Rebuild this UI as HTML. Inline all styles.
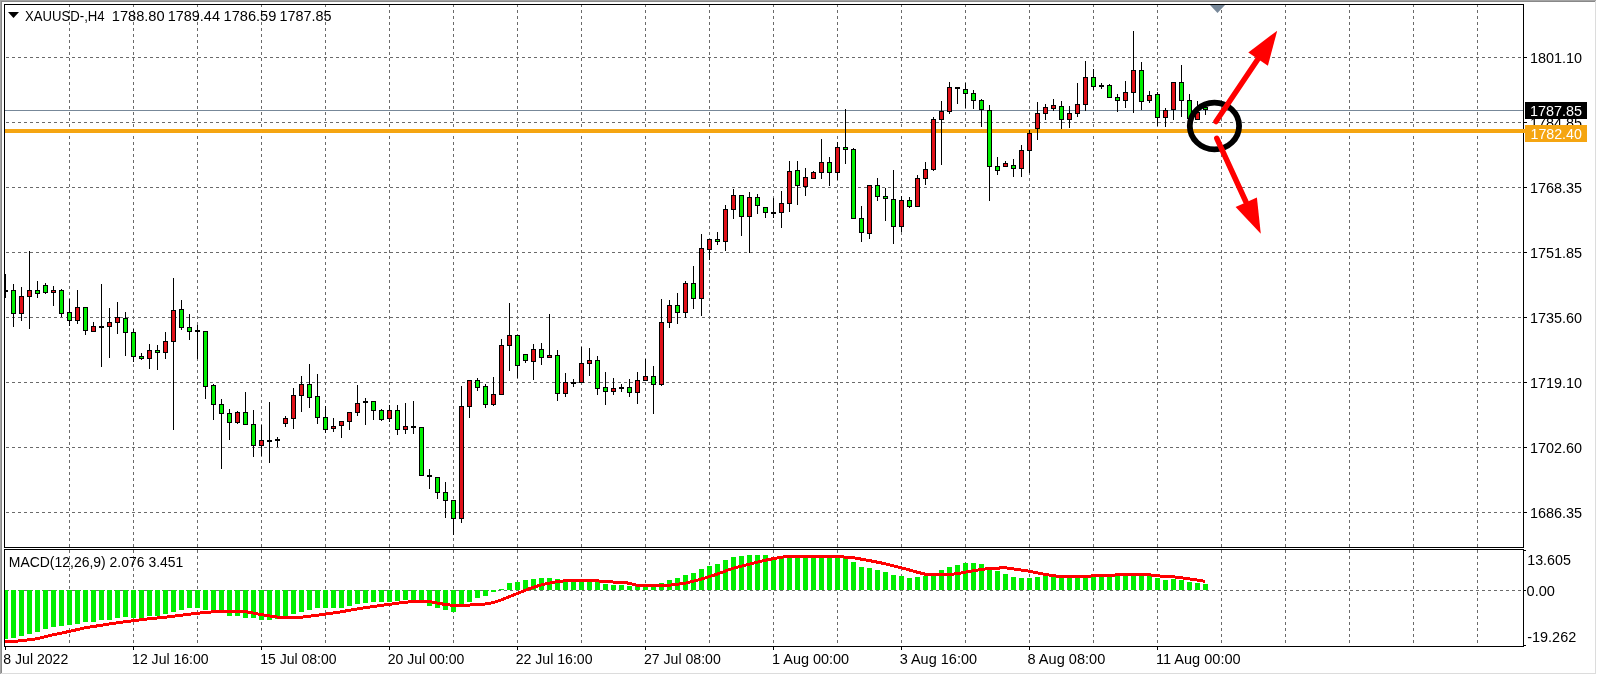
<!DOCTYPE html><html><head><meta charset="utf-8"><title>XAUUSD H4</title><style>
html,body{margin:0;padding:0;background:#fff;width:1597px;height:675px;overflow:hidden}
svg{display:block;will-change:transform}
text{font-family:"Liberation Sans",sans-serif;font-size:14px;fill:#000}
</style></head><body>
<svg width="1597" height="675" viewBox="0 0 1597 675" shape-rendering="crispEdges">
<defs><clipPath id="cm"><rect x="5" y="5" width="1518" height="542"/></clipPath><clipPath id="cd"><rect x="5" y="550" width="1518" height="96"/></clipPath></defs>
<rect x="0" y="0" width="1596" height="1" fill="#a4a4a4"/>
<rect x="0" y="0" width="1" height="674" fill="#a4a4a4"/>
<rect x="1" y="1" width="1594" height="1" fill="#888"/>
<rect x="1" y="1" width="1" height="672" fill="#888"/>
<rect x="1595" y="1" width="1" height="673" fill="#dcdcdc"/>
<rect x="1" y="673" width="1595" height="1" fill="#dcdcdc"/>
<g clip-path="url(#cm)"><line x1="69.5" y1="4" x2="69.5" y2="547" stroke="#6a6a6a" stroke-dasharray="3 3"/><line x1="133.5" y1="4" x2="133.5" y2="547" stroke="#6a6a6a" stroke-dasharray="3 3"/><line x1="197.5" y1="4" x2="197.5" y2="547" stroke="#6a6a6a" stroke-dasharray="3 3"/><line x1="261.5" y1="4" x2="261.5" y2="547" stroke="#6a6a6a" stroke-dasharray="3 3"/><line x1="325.5" y1="4" x2="325.5" y2="547" stroke="#6a6a6a" stroke-dasharray="3 3"/><line x1="389.5" y1="4" x2="389.5" y2="547" stroke="#6a6a6a" stroke-dasharray="3 3"/><line x1="453.5" y1="4" x2="453.5" y2="547" stroke="#6a6a6a" stroke-dasharray="3 3"/><line x1="517.5" y1="4" x2="517.5" y2="547" stroke="#6a6a6a" stroke-dasharray="3 3"/><line x1="581.5" y1="4" x2="581.5" y2="547" stroke="#6a6a6a" stroke-dasharray="3 3"/><line x1="645.5" y1="4" x2="645.5" y2="547" stroke="#6a6a6a" stroke-dasharray="3 3"/><line x1="709.5" y1="4" x2="709.5" y2="547" stroke="#6a6a6a" stroke-dasharray="3 3"/><line x1="773.5" y1="4" x2="773.5" y2="547" stroke="#6a6a6a" stroke-dasharray="3 3"/><line x1="837.5" y1="4" x2="837.5" y2="547" stroke="#6a6a6a" stroke-dasharray="3 3"/><line x1="901.5" y1="4" x2="901.5" y2="547" stroke="#6a6a6a" stroke-dasharray="3 3"/><line x1="965.5" y1="4" x2="965.5" y2="547" stroke="#6a6a6a" stroke-dasharray="3 3"/><line x1="1029.5" y1="4" x2="1029.5" y2="547" stroke="#6a6a6a" stroke-dasharray="3 3"/><line x1="1093.5" y1="4" x2="1093.5" y2="547" stroke="#6a6a6a" stroke-dasharray="3 3"/><line x1="1157.5" y1="4" x2="1157.5" y2="547" stroke="#6a6a6a" stroke-dasharray="3 3"/><line x1="1221.5" y1="4" x2="1221.5" y2="547" stroke="#6a6a6a" stroke-dasharray="3 3"/><line x1="1285.5" y1="4" x2="1285.5" y2="547" stroke="#6a6a6a" stroke-dasharray="3 3"/><line x1="1349.5" y1="4" x2="1349.5" y2="547" stroke="#6a6a6a" stroke-dasharray="3 3"/><line x1="1413.5" y1="4" x2="1413.5" y2="547" stroke="#6a6a6a" stroke-dasharray="3 3"/><line x1="1477.5" y1="4" x2="1477.5" y2="547" stroke="#6a6a6a" stroke-dasharray="3 3"/><line x1="0" y1="57.5" x2="1523" y2="57.5" stroke="#6a6a6a" stroke-dasharray="3 3"/><line x1="0" y1="122.5" x2="1523" y2="122.5" stroke="#6a6a6a" stroke-dasharray="3 3"/><line x1="0" y1="187.5" x2="1523" y2="187.5" stroke="#6a6a6a" stroke-dasharray="3 3"/><line x1="0" y1="252.5" x2="1523" y2="252.5" stroke="#6a6a6a" stroke-dasharray="3 3"/><line x1="0" y1="317.5" x2="1523" y2="317.5" stroke="#6a6a6a" stroke-dasharray="3 3"/><line x1="0" y1="382.5" x2="1523" y2="382.5" stroke="#6a6a6a" stroke-dasharray="3 3"/><line x1="0" y1="447.5" x2="1523" y2="447.5" stroke="#6a6a6a" stroke-dasharray="3 3"/><line x1="0" y1="512.5" x2="1523" y2="512.5" stroke="#6a6a6a" stroke-dasharray="3 3"/><rect x="5" y="110" width="1518" height="1" fill="#778899"/><rect x="5" y="129" width="1520" height="4" fill="#f5a511"/><rect x="5" y="274" width="1" height="24" fill="#000"/><rect x="3" y="290" width="5" height="2" fill="#000"/><rect x="13" y="284" width="1" height="43" fill="#000"/><rect x="11" y="290" width="5" height="24" fill="#000"/><rect x="12" y="291" width="3" height="22" fill="#00ee00"/><rect x="21" y="287" width="1" height="34" fill="#000"/><rect x="19" y="296" width="5" height="18" fill="#000"/><rect x="20" y="297" width="3" height="16" fill="#e01018"/><rect x="29" y="251" width="1" height="78" fill="#000"/><rect x="27" y="290" width="5" height="7" fill="#000"/><rect x="28" y="291" width="3" height="5" fill="#e01018"/><rect x="37" y="281" width="1" height="17" fill="#000"/><rect x="35" y="290" width="5" height="4" fill="#000"/><rect x="36" y="291" width="3" height="2" fill="#00ee00"/><rect x="45" y="283" width="1" height="11" fill="#000"/><rect x="43" y="285" width="5" height="8" fill="#000"/><rect x="44" y="286" width="3" height="6" fill="#00ee00"/><rect x="53" y="286" width="1" height="20" fill="#000"/><rect x="51" y="290" width="5" height="3" fill="#000"/><rect x="52" y="291" width="3" height="1" fill="#e01018"/><rect x="61" y="289" width="1" height="28" fill="#000"/><rect x="59" y="290" width="5" height="24" fill="#000"/><rect x="60" y="291" width="3" height="22" fill="#00ee00"/><rect x="69" y="299" width="1" height="27" fill="#000"/><rect x="67" y="312" width="5" height="9" fill="#000"/><rect x="68" y="313" width="3" height="7" fill="#00ee00"/><rect x="77" y="290" width="1" height="34" fill="#000"/><rect x="75" y="307" width="5" height="14" fill="#000"/><rect x="76" y="308" width="3" height="12" fill="#e01018"/><rect x="85" y="307" width="1" height="28" fill="#000"/><rect x="83" y="307" width="5" height="24" fill="#000"/><rect x="84" y="308" width="3" height="22" fill="#00ee00"/><rect x="93" y="322" width="1" height="10" fill="#000"/><rect x="91" y="326" width="5" height="6" fill="#000"/><rect x="92" y="327" width="3" height="4" fill="#e01018"/><rect x="101" y="284" width="1" height="83" fill="#000"/><rect x="99" y="326" width="5" height="2" fill="#000"/><rect x="109" y="308" width="1" height="50" fill="#000"/><rect x="107" y="322" width="5" height="5" fill="#000"/><rect x="108" y="323" width="3" height="3" fill="#e01018"/><rect x="117" y="302" width="1" height="32" fill="#000"/><rect x="115" y="317" width="5" height="6" fill="#000"/><rect x="116" y="318" width="3" height="4" fill="#e01018"/><rect x="125" y="312" width="1" height="44" fill="#000"/><rect x="123" y="318" width="5" height="15" fill="#000"/><rect x="124" y="319" width="3" height="13" fill="#00ee00"/><rect x="133" y="329" width="1" height="33" fill="#000"/><rect x="131" y="332" width="5" height="25" fill="#000"/><rect x="132" y="333" width="3" height="23" fill="#00ee00"/><rect x="141" y="353" width="1" height="7" fill="#000"/><rect x="139" y="356" width="5" height="3" fill="#000"/><rect x="140" y="357" width="3" height="1" fill="#00ee00"/><rect x="149" y="344" width="1" height="25" fill="#000"/><rect x="147" y="350" width="5" height="9" fill="#000"/><rect x="148" y="351" width="3" height="7" fill="#e01018"/><rect x="157" y="345" width="1" height="25" fill="#000"/><rect x="155" y="350" width="5" height="3" fill="#000"/><rect x="156" y="351" width="3" height="1" fill="#00ee00"/><rect x="165" y="332" width="1" height="27" fill="#000"/><rect x="163" y="341" width="5" height="12" fill="#000"/><rect x="164" y="342" width="3" height="10" fill="#e01018"/><rect x="173" y="278" width="1" height="152" fill="#000"/><rect x="171" y="310" width="5" height="32" fill="#000"/><rect x="172" y="311" width="3" height="30" fill="#e01018"/><rect x="181" y="300" width="1" height="30" fill="#000"/><rect x="179" y="309" width="5" height="19" fill="#000"/><rect x="180" y="310" width="3" height="17" fill="#00ee00"/><rect x="189" y="314" width="1" height="26" fill="#000"/><rect x="187" y="327" width="5" height="5" fill="#000"/><rect x="188" y="328" width="3" height="3" fill="#00ee00"/><rect x="197" y="325" width="1" height="34" fill="#000"/><rect x="195" y="330" width="5" height="2" fill="#000"/><rect x="205" y="331" width="1" height="68" fill="#000"/><rect x="203" y="331" width="5" height="56" fill="#000"/><rect x="204" y="332" width="3" height="54" fill="#00ee00"/><rect x="213" y="384" width="1" height="36" fill="#000"/><rect x="211" y="385" width="5" height="20" fill="#000"/><rect x="212" y="386" width="3" height="18" fill="#00ee00"/><rect x="221" y="399" width="1" height="70" fill="#000"/><rect x="219" y="404" width="5" height="10" fill="#000"/><rect x="220" y="405" width="3" height="8" fill="#00ee00"/><rect x="229" y="409" width="1" height="31" fill="#000"/><rect x="227" y="413" width="5" height="10" fill="#000"/><rect x="228" y="414" width="3" height="8" fill="#00ee00"/><rect x="237" y="411" width="1" height="13" fill="#000"/><rect x="235" y="412" width="5" height="11" fill="#000"/><rect x="236" y="413" width="3" height="9" fill="#e01018"/><rect x="245" y="392" width="1" height="33" fill="#000"/><rect x="243" y="412" width="5" height="13" fill="#000"/><rect x="244" y="413" width="3" height="11" fill="#00ee00"/><rect x="253" y="410" width="1" height="47" fill="#000"/><rect x="251" y="424" width="5" height="22" fill="#000"/><rect x="252" y="425" width="3" height="20" fill="#00ee00"/><rect x="261" y="425" width="1" height="31" fill="#000"/><rect x="259" y="440" width="5" height="6" fill="#000"/><rect x="260" y="441" width="3" height="4" fill="#e01018"/><rect x="269" y="402" width="1" height="61" fill="#000"/><rect x="267" y="440" width="5" height="2" fill="#000"/><rect x="277" y="437" width="1" height="10" fill="#000"/><rect x="275" y="439" width="5" height="2" fill="#000"/><rect x="285" y="416" width="1" height="11" fill="#000"/><rect x="283" y="418" width="5" height="6" fill="#000"/><rect x="284" y="419" width="3" height="4" fill="#e01018"/><rect x="293" y="388" width="1" height="41" fill="#000"/><rect x="291" y="395" width="5" height="24" fill="#000"/><rect x="292" y="396" width="3" height="22" fill="#e01018"/><rect x="301" y="376" width="1" height="36" fill="#000"/><rect x="299" y="384" width="5" height="12" fill="#000"/><rect x="300" y="385" width="3" height="10" fill="#e01018"/><rect x="309" y="364" width="1" height="44" fill="#000"/><rect x="307" y="384" width="5" height="14" fill="#000"/><rect x="308" y="385" width="3" height="12" fill="#00ee00"/><rect x="317" y="374" width="1" height="50" fill="#000"/><rect x="315" y="396" width="5" height="22" fill="#000"/><rect x="316" y="397" width="3" height="20" fill="#00ee00"/><rect x="325" y="406" width="1" height="27" fill="#000"/><rect x="323" y="417" width="5" height="13" fill="#000"/><rect x="324" y="418" width="3" height="11" fill="#00ee00"/><rect x="333" y="418" width="1" height="14" fill="#000"/><rect x="331" y="426" width="5" height="3" fill="#000"/><rect x="332" y="427" width="3" height="1" fill="#e01018"/><rect x="341" y="421" width="1" height="17" fill="#000"/><rect x="339" y="421" width="5" height="5" fill="#000"/><rect x="340" y="422" width="3" height="3" fill="#e01018"/><rect x="349" y="412" width="1" height="18" fill="#000"/><rect x="347" y="412" width="5" height="10" fill="#000"/><rect x="348" y="413" width="3" height="8" fill="#e01018"/><rect x="357" y="385" width="1" height="31" fill="#000"/><rect x="355" y="403" width="5" height="10" fill="#000"/><rect x="356" y="404" width="3" height="8" fill="#e01018"/><rect x="365" y="398" width="1" height="27" fill="#000"/><rect x="363" y="401" width="5" height="2" fill="#000"/><rect x="373" y="401" width="1" height="19" fill="#000"/><rect x="371" y="401" width="5" height="10" fill="#000"/><rect x="372" y="402" width="3" height="8" fill="#00ee00"/><rect x="381" y="409" width="1" height="12" fill="#000"/><rect x="379" y="410" width="5" height="10" fill="#000"/><rect x="380" y="411" width="3" height="8" fill="#00ee00"/><rect x="389" y="405" width="1" height="17" fill="#000"/><rect x="387" y="410" width="5" height="9" fill="#000"/><rect x="388" y="411" width="3" height="7" fill="#e01018"/><rect x="397" y="405" width="1" height="30" fill="#000"/><rect x="395" y="410" width="5" height="20" fill="#000"/><rect x="396" y="411" width="3" height="18" fill="#00ee00"/><rect x="405" y="403" width="1" height="31" fill="#000"/><rect x="403" y="426" width="5" height="4" fill="#000"/><rect x="404" y="427" width="3" height="2" fill="#e01018"/><rect x="413" y="401" width="1" height="33" fill="#000"/><rect x="411" y="426" width="5" height="2" fill="#000"/><rect x="421" y="427" width="1" height="49" fill="#000"/><rect x="419" y="427" width="5" height="49" fill="#000"/><rect x="420" y="428" width="3" height="47" fill="#00ee00"/><rect x="429" y="469" width="1" height="20" fill="#000"/><rect x="427" y="475" width="5" height="2" fill="#000"/><rect x="437" y="477" width="1" height="22" fill="#000"/><rect x="435" y="477" width="5" height="16" fill="#000"/><rect x="436" y="478" width="3" height="14" fill="#00ee00"/><rect x="445" y="482" width="1" height="36" fill="#000"/><rect x="443" y="492" width="5" height="9" fill="#000"/><rect x="444" y="493" width="3" height="7" fill="#00ee00"/><rect x="453" y="500" width="1" height="35" fill="#000"/><rect x="451" y="500" width="5" height="19" fill="#000"/><rect x="452" y="501" width="3" height="17" fill="#00ee00"/><rect x="461" y="386" width="1" height="137" fill="#000"/><rect x="459" y="406" width="5" height="113" fill="#000"/><rect x="460" y="407" width="3" height="111" fill="#e01018"/><rect x="469" y="380" width="1" height="38" fill="#000"/><rect x="467" y="380" width="5" height="27" fill="#000"/><rect x="468" y="381" width="3" height="25" fill="#e01018"/><rect x="477" y="378" width="1" height="13" fill="#000"/><rect x="475" y="380" width="5" height="8" fill="#000"/><rect x="476" y="381" width="3" height="6" fill="#00ee00"/><rect x="485" y="384" width="1" height="24" fill="#000"/><rect x="483" y="386" width="5" height="19" fill="#000"/><rect x="484" y="387" width="3" height="17" fill="#00ee00"/><rect x="493" y="377" width="1" height="29" fill="#000"/><rect x="491" y="394" width="5" height="11" fill="#000"/><rect x="492" y="395" width="3" height="9" fill="#e01018"/><rect x="501" y="339" width="1" height="56" fill="#000"/><rect x="499" y="345" width="5" height="50" fill="#000"/><rect x="500" y="346" width="3" height="48" fill="#e01018"/><rect x="509" y="303" width="1" height="68" fill="#000"/><rect x="507" y="335" width="5" height="11" fill="#000"/><rect x="508" y="336" width="3" height="9" fill="#e01018"/><rect x="517" y="335" width="1" height="43" fill="#000"/><rect x="515" y="335" width="5" height="31" fill="#000"/><rect x="516" y="336" width="3" height="29" fill="#00ee00"/><rect x="525" y="354" width="1" height="9" fill="#000"/><rect x="523" y="354" width="5" height="7" fill="#000"/><rect x="524" y="355" width="3" height="5" fill="#00ee00"/><rect x="533" y="344" width="1" height="36" fill="#000"/><rect x="531" y="349" width="5" height="13" fill="#000"/><rect x="532" y="350" width="3" height="11" fill="#e01018"/><rect x="541" y="343" width="1" height="22" fill="#000"/><rect x="539" y="349" width="5" height="9" fill="#000"/><rect x="540" y="350" width="3" height="7" fill="#00ee00"/><rect x="549" y="314" width="1" height="44" fill="#000"/><rect x="547" y="355" width="5" height="3" fill="#000"/><rect x="548" y="356" width="3" height="1" fill="#e01018"/><rect x="557" y="350" width="1" height="51" fill="#000"/><rect x="555" y="355" width="5" height="39" fill="#000"/><rect x="556" y="356" width="3" height="37" fill="#00ee00"/><rect x="565" y="373" width="1" height="24" fill="#000"/><rect x="563" y="382" width="5" height="12" fill="#000"/><rect x="564" y="383" width="3" height="10" fill="#e01018"/><rect x="573" y="379" width="1" height="8" fill="#000"/><rect x="571" y="382" width="5" height="2" fill="#000"/><rect x="581" y="347" width="1" height="36" fill="#000"/><rect x="579" y="363" width="5" height="20" fill="#000"/><rect x="580" y="364" width="3" height="18" fill="#e01018"/><rect x="589" y="348" width="1" height="28" fill="#000"/><rect x="587" y="360" width="5" height="4" fill="#000"/><rect x="588" y="361" width="3" height="2" fill="#e01018"/><rect x="597" y="356" width="1" height="39" fill="#000"/><rect x="595" y="360" width="5" height="29" fill="#000"/><rect x="596" y="361" width="3" height="27" fill="#00ee00"/><rect x="605" y="372" width="1" height="33" fill="#000"/><rect x="603" y="387" width="5" height="5" fill="#000"/><rect x="604" y="388" width="3" height="3" fill="#00ee00"/><rect x="613" y="378" width="1" height="17" fill="#000"/><rect x="611" y="388" width="5" height="4" fill="#000"/><rect x="612" y="389" width="3" height="2" fill="#e01018"/><rect x="621" y="384" width="1" height="8" fill="#000"/><rect x="619" y="387" width="5" height="2" fill="#000"/><rect x="629" y="379" width="1" height="18" fill="#000"/><rect x="627" y="387" width="5" height="6" fill="#000"/><rect x="628" y="388" width="3" height="4" fill="#00ee00"/><rect x="637" y="372" width="1" height="32" fill="#000"/><rect x="635" y="380" width="5" height="13" fill="#000"/><rect x="636" y="381" width="3" height="11" fill="#e01018"/><rect x="645" y="359" width="1" height="22" fill="#000"/><rect x="643" y="376" width="5" height="5" fill="#000"/><rect x="644" y="377" width="3" height="3" fill="#e01018"/><rect x="653" y="366" width="1" height="48" fill="#000"/><rect x="651" y="376" width="5" height="9" fill="#000"/><rect x="652" y="377" width="3" height="7" fill="#00ee00"/><rect x="661" y="299" width="1" height="87" fill="#000"/><rect x="659" y="322" width="5" height="63" fill="#000"/><rect x="660" y="323" width="3" height="61" fill="#e01018"/><rect x="669" y="300" width="1" height="28" fill="#000"/><rect x="667" y="305" width="5" height="18" fill="#000"/><rect x="668" y="306" width="3" height="16" fill="#e01018"/><rect x="677" y="293" width="1" height="31" fill="#000"/><rect x="675" y="305" width="5" height="8" fill="#000"/><rect x="676" y="306" width="3" height="6" fill="#00ee00"/><rect x="685" y="281" width="1" height="37" fill="#000"/><rect x="683" y="283" width="5" height="30" fill="#000"/><rect x="684" y="284" width="3" height="28" fill="#e01018"/><rect x="693" y="266" width="1" height="43" fill="#000"/><rect x="691" y="283" width="5" height="16" fill="#000"/><rect x="692" y="284" width="3" height="14" fill="#00ee00"/><rect x="701" y="234" width="1" height="82" fill="#000"/><rect x="699" y="248" width="5" height="51" fill="#000"/><rect x="700" y="249" width="3" height="49" fill="#e01018"/><rect x="709" y="239" width="1" height="21" fill="#000"/><rect x="707" y="239" width="5" height="11" fill="#000"/><rect x="708" y="240" width="3" height="9" fill="#e01018"/><rect x="717" y="232" width="1" height="13" fill="#000"/><rect x="715" y="239" width="5" height="3" fill="#000"/><rect x="716" y="240" width="3" height="1" fill="#00ee00"/><rect x="725" y="205" width="1" height="46" fill="#000"/><rect x="723" y="209" width="5" height="33" fill="#000"/><rect x="724" y="210" width="3" height="31" fill="#e01018"/><rect x="733" y="189" width="1" height="30" fill="#000"/><rect x="731" y="195" width="5" height="15" fill="#000"/><rect x="732" y="196" width="3" height="13" fill="#e01018"/><rect x="741" y="195" width="1" height="41" fill="#000"/><rect x="739" y="195" width="5" height="22" fill="#000"/><rect x="740" y="196" width="3" height="20" fill="#00ee00"/><rect x="749" y="192" width="1" height="61" fill="#000"/><rect x="747" y="197" width="5" height="20" fill="#000"/><rect x="748" y="198" width="3" height="18" fill="#e01018"/><rect x="757" y="194" width="1" height="20" fill="#000"/><rect x="755" y="197" width="5" height="9" fill="#000"/><rect x="756" y="198" width="3" height="7" fill="#00ee00"/><rect x="765" y="207" width="1" height="11" fill="#000"/><rect x="763" y="207" width="5" height="6" fill="#000"/><rect x="764" y="208" width="3" height="4" fill="#00ee00"/><rect x="773" y="198" width="1" height="20" fill="#000"/><rect x="771" y="212" width="5" height="2" fill="#000"/><rect x="781" y="191" width="1" height="37" fill="#000"/><rect x="779" y="203" width="5" height="10" fill="#000"/><rect x="780" y="204" width="3" height="8" fill="#e01018"/><rect x="789" y="161" width="1" height="51" fill="#000"/><rect x="787" y="171" width="5" height="33" fill="#000"/><rect x="788" y="172" width="3" height="31" fill="#e01018"/><rect x="797" y="161" width="1" height="44" fill="#000"/><rect x="795" y="170" width="5" height="16" fill="#000"/><rect x="796" y="171" width="3" height="14" fill="#00ee00"/><rect x="805" y="168" width="1" height="28" fill="#000"/><rect x="803" y="177" width="5" height="10" fill="#000"/><rect x="804" y="178" width="3" height="8" fill="#e01018"/><rect x="813" y="171" width="1" height="8" fill="#000"/><rect x="811" y="172" width="5" height="7" fill="#000"/><rect x="812" y="173" width="3" height="5" fill="#e01018"/><rect x="821" y="139" width="1" height="40" fill="#000"/><rect x="819" y="162" width="5" height="11" fill="#000"/><rect x="820" y="163" width="3" height="9" fill="#e01018"/><rect x="829" y="157" width="1" height="29" fill="#000"/><rect x="827" y="162" width="5" height="11" fill="#000"/><rect x="828" y="163" width="3" height="9" fill="#00ee00"/><rect x="837" y="142" width="1" height="38" fill="#000"/><rect x="835" y="147" width="5" height="26" fill="#000"/><rect x="836" y="148" width="3" height="24" fill="#e01018"/><rect x="845" y="109" width="1" height="55" fill="#000"/><rect x="843" y="147" width="5" height="3" fill="#000"/><rect x="844" y="148" width="3" height="1" fill="#00ee00"/><rect x="853" y="148" width="1" height="71" fill="#000"/><rect x="851" y="149" width="5" height="70" fill="#000"/><rect x="852" y="150" width="3" height="68" fill="#00ee00"/><rect x="861" y="206" width="1" height="36" fill="#000"/><rect x="859" y="218" width="5" height="15" fill="#000"/><rect x="860" y="219" width="3" height="13" fill="#00ee00"/><rect x="869" y="185" width="1" height="54" fill="#000"/><rect x="867" y="185" width="5" height="49" fill="#000"/><rect x="868" y="186" width="3" height="47" fill="#e01018"/><rect x="877" y="178" width="1" height="23" fill="#000"/><rect x="875" y="185" width="5" height="12" fill="#000"/><rect x="876" y="186" width="3" height="10" fill="#00ee00"/><rect x="885" y="188" width="1" height="33" fill="#000"/><rect x="883" y="196" width="5" height="3" fill="#000"/><rect x="884" y="197" width="3" height="1" fill="#00ee00"/><rect x="893" y="170" width="1" height="74" fill="#000"/><rect x="891" y="199" width="5" height="28" fill="#000"/><rect x="892" y="200" width="3" height="26" fill="#00ee00"/><rect x="901" y="196" width="1" height="36" fill="#000"/><rect x="899" y="200" width="5" height="27" fill="#000"/><rect x="900" y="201" width="3" height="25" fill="#e01018"/><rect x="909" y="197" width="1" height="11" fill="#000"/><rect x="907" y="200" width="5" height="7" fill="#000"/><rect x="908" y="201" width="3" height="5" fill="#00ee00"/><rect x="917" y="175" width="1" height="32" fill="#000"/><rect x="915" y="178" width="5" height="29" fill="#000"/><rect x="916" y="179" width="3" height="27" fill="#e01018"/><rect x="925" y="162" width="1" height="23" fill="#000"/><rect x="923" y="169" width="5" height="10" fill="#000"/><rect x="924" y="170" width="3" height="8" fill="#e01018"/><rect x="933" y="117" width="1" height="54" fill="#000"/><rect x="931" y="119" width="5" height="51" fill="#000"/><rect x="932" y="120" width="3" height="49" fill="#e01018"/><rect x="941" y="101" width="1" height="64" fill="#000"/><rect x="939" y="111" width="5" height="9" fill="#000"/><rect x="940" y="112" width="3" height="7" fill="#e01018"/><rect x="949" y="82" width="1" height="32" fill="#000"/><rect x="947" y="87" width="5" height="25" fill="#000"/><rect x="948" y="88" width="3" height="23" fill="#e01018"/><rect x="957" y="88" width="1" height="16" fill="#000"/><rect x="955" y="87" width="5" height="2" fill="#000"/><rect x="965" y="83" width="1" height="25" fill="#000"/><rect x="963" y="89" width="5" height="5" fill="#000"/><rect x="964" y="90" width="3" height="3" fill="#00ee00"/><rect x="973" y="90" width="1" height="19" fill="#000"/><rect x="971" y="93" width="5" height="8" fill="#000"/><rect x="972" y="94" width="3" height="6" fill="#00ee00"/><rect x="981" y="99" width="1" height="28" fill="#000"/><rect x="979" y="100" width="5" height="10" fill="#000"/><rect x="980" y="101" width="3" height="8" fill="#00ee00"/><rect x="989" y="105" width="1" height="96" fill="#000"/><rect x="987" y="110" width="5" height="57" fill="#000"/><rect x="988" y="111" width="3" height="55" fill="#00ee00"/><rect x="997" y="157" width="1" height="18" fill="#000"/><rect x="995" y="166" width="5" height="5" fill="#000"/><rect x="996" y="167" width="3" height="3" fill="#00ee00"/><rect x="1005" y="161" width="1" height="6" fill="#000"/><rect x="1003" y="163" width="5" height="4" fill="#000"/><rect x="1004" y="164" width="3" height="2" fill="#e01018"/><rect x="1013" y="159" width="1" height="18" fill="#000"/><rect x="1011" y="165" width="5" height="4" fill="#000"/><rect x="1012" y="166" width="3" height="2" fill="#00ee00"/><rect x="1021" y="145" width="1" height="32" fill="#000"/><rect x="1019" y="150" width="5" height="19" fill="#000"/><rect x="1020" y="151" width="3" height="17" fill="#e01018"/><rect x="1029" y="130" width="1" height="43" fill="#000"/><rect x="1027" y="133" width="5" height="18" fill="#000"/><rect x="1028" y="134" width="3" height="16" fill="#e01018"/><rect x="1037" y="102" width="1" height="38" fill="#000"/><rect x="1035" y="113" width="5" height="16" fill="#000"/><rect x="1036" y="114" width="3" height="14" fill="#e01018"/><rect x="1045" y="104" width="1" height="16" fill="#000"/><rect x="1043" y="107" width="5" height="7" fill="#000"/><rect x="1044" y="108" width="3" height="5" fill="#e01018"/><rect x="1053" y="99" width="1" height="12" fill="#000"/><rect x="1051" y="105" width="5" height="4" fill="#000"/><rect x="1052" y="106" width="3" height="2" fill="#e01018"/><rect x="1061" y="101" width="1" height="28" fill="#000"/><rect x="1059" y="106" width="5" height="14" fill="#000"/><rect x="1060" y="107" width="3" height="12" fill="#00ee00"/><rect x="1069" y="106" width="1" height="22" fill="#000"/><rect x="1067" y="113" width="5" height="7" fill="#000"/><rect x="1068" y="114" width="3" height="5" fill="#e01018"/><rect x="1077" y="83" width="1" height="34" fill="#000"/><rect x="1075" y="104" width="5" height="10" fill="#000"/><rect x="1076" y="105" width="3" height="8" fill="#e01018"/><rect x="1085" y="61" width="1" height="50" fill="#000"/><rect x="1083" y="77" width="5" height="28" fill="#000"/><rect x="1084" y="78" width="3" height="26" fill="#e01018"/><rect x="1093" y="69" width="1" height="21" fill="#000"/><rect x="1091" y="77" width="5" height="10" fill="#000"/><rect x="1092" y="78" width="3" height="8" fill="#00ee00"/><rect x="1101" y="83" width="1" height="6" fill="#000"/><rect x="1099" y="85" width="5" height="2" fill="#000"/><rect x="1109" y="84" width="1" height="14" fill="#000"/><rect x="1107" y="85" width="5" height="13" fill="#000"/><rect x="1108" y="86" width="3" height="11" fill="#00ee00"/><rect x="1117" y="94" width="1" height="18" fill="#000"/><rect x="1115" y="97" width="5" height="4" fill="#000"/><rect x="1116" y="98" width="3" height="2" fill="#00ee00"/><rect x="1125" y="81" width="1" height="27" fill="#000"/><rect x="1123" y="92" width="5" height="9" fill="#000"/><rect x="1124" y="93" width="3" height="7" fill="#e01018"/><rect x="1133" y="31" width="1" height="82" fill="#000"/><rect x="1131" y="70" width="5" height="23" fill="#000"/><rect x="1132" y="71" width="3" height="21" fill="#e01018"/><rect x="1141" y="62" width="1" height="48" fill="#000"/><rect x="1139" y="70" width="5" height="32" fill="#000"/><rect x="1140" y="71" width="3" height="30" fill="#00ee00"/><rect x="1149" y="91" width="1" height="12" fill="#000"/><rect x="1147" y="95" width="5" height="6" fill="#000"/><rect x="1148" y="96" width="3" height="4" fill="#e01018"/><rect x="1157" y="92" width="1" height="34" fill="#000"/><rect x="1155" y="94" width="5" height="24" fill="#000"/><rect x="1156" y="95" width="3" height="22" fill="#00ee00"/><rect x="1165" y="108" width="1" height="19" fill="#000"/><rect x="1163" y="110" width="5" height="8" fill="#000"/><rect x="1164" y="111" width="3" height="6" fill="#e01018"/><rect x="1173" y="82" width="1" height="38" fill="#000"/><rect x="1171" y="82" width="5" height="28" fill="#000"/><rect x="1172" y="83" width="3" height="26" fill="#e01018"/><rect x="1181" y="65" width="1" height="52" fill="#000"/><rect x="1179" y="82" width="5" height="19" fill="#000"/><rect x="1180" y="83" width="3" height="17" fill="#00ee00"/><rect x="1189" y="94" width="1" height="26" fill="#000"/><rect x="1187" y="100" width="5" height="19" fill="#000"/><rect x="1188" y="101" width="3" height="17" fill="#00ee00"/><rect x="1197" y="101" width="1" height="19" fill="#000"/><rect x="1195" y="112" width="5" height="8" fill="#000"/><rect x="1196" y="113" width="3" height="6" fill="#e01018"/><rect x="1205" y="104" width="1" height="11" fill="#000"/><rect x="1203" y="107" width="5" height="3" fill="#000"/><rect x="1204" y="108" width="3" height="1" fill="#00ee00"/></g>
<g shape-rendering="geometricPrecision">
<ellipse cx="1214.45" cy="126" rx="24.65" ry="23.35" fill="none" stroke="#000" stroke-width="5.8"/>
<line x1="1216" y1="121.5" x2="1258" y2="59" stroke="#f00" stroke-width="5.5" stroke-linecap="round"/>
<polygon points="1277.2,30.7 1248.3,52.4 1267.9,65.7" fill="#f00"/>
<line x1="1216.8" y1="138.3" x2="1246" y2="202" stroke="#f00" stroke-width="5.5" stroke-linecap="round"/>
<polygon points="1260.8,233.8 1235.6,207.1 1256.9,197.5" fill="#f00"/>
</g>
<rect x="4" y="4" width="1520" height="1" fill="#000"/>
<rect x="4" y="547" width="1520" height="1" fill="#000"/>
<rect x="4" y="4" width="1" height="544" fill="#000"/>
<rect x="1523" y="4" width="1" height="544" fill="#000"/>
<polygon points="1210,5 1225,5 1217.5,13" fill="#778899" shape-rendering="geometricPrecision"/>
<polygon points="8,12 19,12 13.5,18" fill="#000" shape-rendering="geometricPrecision"/>
<text x="25.06" y="21" textLength="79.59" lengthAdjust="spacingAndGlyphs">XAUUSD-,H4</text>
<text x="111.76" y="21" textLength="52.88" lengthAdjust="spacingAndGlyphs">1788.80</text>
<text x="167.77" y="21" textLength="52.16" lengthAdjust="spacingAndGlyphs">1789.44</text>
<text x="223.56" y="21" textLength="52.78" lengthAdjust="spacingAndGlyphs">1786.59</text>
<text x="279.57" y="21" textLength="52.06" lengthAdjust="spacingAndGlyphs">1787.85</text>
<rect x="1524" y="57" width="3" height="1" fill="#000"/>
<text x="1529.97" y="63" textLength="52.16" lengthAdjust="spacingAndGlyphs">1801.10</text>
<rect x="1524" y="122" width="3" height="1" fill="#000"/>
<text x="1529.97" y="128" textLength="52.16" lengthAdjust="spacingAndGlyphs">1784.85</text>
<rect x="1524" y="187" width="3" height="1" fill="#000"/>
<text x="1529.97" y="193" textLength="52.16" lengthAdjust="spacingAndGlyphs">1768.35</text>
<rect x="1524" y="252" width="3" height="1" fill="#000"/>
<text x="1529.97" y="258" textLength="52.16" lengthAdjust="spacingAndGlyphs">1751.85</text>
<rect x="1524" y="317" width="3" height="1" fill="#000"/>
<text x="1529.97" y="323" textLength="52.16" lengthAdjust="spacingAndGlyphs">1735.60</text>
<rect x="1524" y="382" width="3" height="1" fill="#000"/>
<text x="1529.97" y="388" textLength="52.16" lengthAdjust="spacingAndGlyphs">1719.10</text>
<rect x="1524" y="447" width="3" height="1" fill="#000"/>
<text x="1529.97" y="453" textLength="52.16" lengthAdjust="spacingAndGlyphs">1702.60</text>
<rect x="1524" y="512" width="3" height="1" fill="#000"/>
<text x="1529.97" y="518" textLength="52.16" lengthAdjust="spacingAndGlyphs">1686.35</text>
<rect x="1525" y="102" width="62" height="17" fill="#000"/>
<text x="1530.07" y="116" textLength="52.06" lengthAdjust="spacingAndGlyphs" style="fill:#fff">1787.85</text>
<rect x="1525" y="125" width="62" height="17" fill="#f5a511"/>
<rect x="1519" y="129" width="7" height="4" fill="#f5a511"/>
<text x="1530.48" y="139" textLength="51.44" lengthAdjust="spacingAndGlyphs" style="fill:#fff">1782.40</text>
<g clip-path="url(#cd)"><line x1="69.5" y1="550" x2="69.5" y2="646" stroke="#6a6a6a" stroke-dasharray="3 3"/><line x1="133.5" y1="550" x2="133.5" y2="646" stroke="#6a6a6a" stroke-dasharray="3 3"/><line x1="197.5" y1="550" x2="197.5" y2="646" stroke="#6a6a6a" stroke-dasharray="3 3"/><line x1="261.5" y1="550" x2="261.5" y2="646" stroke="#6a6a6a" stroke-dasharray="3 3"/><line x1="325.5" y1="550" x2="325.5" y2="646" stroke="#6a6a6a" stroke-dasharray="3 3"/><line x1="389.5" y1="550" x2="389.5" y2="646" stroke="#6a6a6a" stroke-dasharray="3 3"/><line x1="453.5" y1="550" x2="453.5" y2="646" stroke="#6a6a6a" stroke-dasharray="3 3"/><line x1="517.5" y1="550" x2="517.5" y2="646" stroke="#6a6a6a" stroke-dasharray="3 3"/><line x1="581.5" y1="550" x2="581.5" y2="646" stroke="#6a6a6a" stroke-dasharray="3 3"/><line x1="645.5" y1="550" x2="645.5" y2="646" stroke="#6a6a6a" stroke-dasharray="3 3"/><line x1="709.5" y1="550" x2="709.5" y2="646" stroke="#6a6a6a" stroke-dasharray="3 3"/><line x1="773.5" y1="550" x2="773.5" y2="646" stroke="#6a6a6a" stroke-dasharray="3 3"/><line x1="837.5" y1="550" x2="837.5" y2="646" stroke="#6a6a6a" stroke-dasharray="3 3"/><line x1="901.5" y1="550" x2="901.5" y2="646" stroke="#6a6a6a" stroke-dasharray="3 3"/><line x1="965.5" y1="550" x2="965.5" y2="646" stroke="#6a6a6a" stroke-dasharray="3 3"/><line x1="1029.5" y1="550" x2="1029.5" y2="646" stroke="#6a6a6a" stroke-dasharray="3 3"/><line x1="1093.5" y1="550" x2="1093.5" y2="646" stroke="#6a6a6a" stroke-dasharray="3 3"/><line x1="1157.5" y1="550" x2="1157.5" y2="646" stroke="#6a6a6a" stroke-dasharray="3 3"/><line x1="1221.5" y1="550" x2="1221.5" y2="646" stroke="#6a6a6a" stroke-dasharray="3 3"/><line x1="1285.5" y1="550" x2="1285.5" y2="646" stroke="#6a6a6a" stroke-dasharray="3 3"/><line x1="1349.5" y1="550" x2="1349.5" y2="646" stroke="#6a6a6a" stroke-dasharray="3 3"/><line x1="1413.5" y1="550" x2="1413.5" y2="646" stroke="#6a6a6a" stroke-dasharray="3 3"/><line x1="1477.5" y1="550" x2="1477.5" y2="646" stroke="#6a6a6a" stroke-dasharray="3 3"/><line x1="0" y1="590.5" x2="1523" y2="590.5" stroke="#6a6a6a" stroke-dasharray="3 3"/><rect x="3" y="590" width="5" height="49" fill="#00ee00"/><rect x="11" y="590" width="5" height="48" fill="#00ee00"/><rect x="19" y="590" width="5" height="46" fill="#00ee00"/><rect x="27" y="590" width="5" height="44" fill="#00ee00"/><rect x="35" y="590" width="5" height="42" fill="#00ee00"/><rect x="43" y="590" width="5" height="39" fill="#00ee00"/><rect x="51" y="590" width="5" height="37" fill="#00ee00"/><rect x="59" y="590" width="5" height="36" fill="#00ee00"/><rect x="67" y="590" width="5" height="35" fill="#00ee00"/><rect x="75" y="590" width="5" height="34" fill="#00ee00"/><rect x="83" y="590" width="5" height="32" fill="#00ee00"/><rect x="91" y="590" width="5" height="32" fill="#00ee00"/><rect x="99" y="590" width="5" height="30" fill="#00ee00"/><rect x="107" y="590" width="5" height="30" fill="#00ee00"/><rect x="115" y="590" width="5" height="28" fill="#00ee00"/><rect x="123" y="590" width="5" height="27" fill="#00ee00"/><rect x="131" y="590" width="5" height="28" fill="#00ee00"/><rect x="139" y="590" width="5" height="28" fill="#00ee00"/><rect x="147" y="590" width="5" height="26" fill="#00ee00"/><rect x="155" y="590" width="5" height="26" fill="#00ee00"/><rect x="163" y="590" width="5" height="24" fill="#00ee00"/><rect x="171" y="590" width="5" height="22" fill="#00ee00"/><rect x="179" y="590" width="5" height="20" fill="#00ee00"/><rect x="187" y="590" width="5" height="18" fill="#00ee00"/><rect x="195" y="590" width="5" height="18" fill="#00ee00"/><rect x="203" y="590" width="5" height="20" fill="#00ee00"/><rect x="211" y="590" width="5" height="22" fill="#00ee00"/><rect x="219" y="590" width="5" height="23" fill="#00ee00"/><rect x="227" y="590" width="5" height="26" fill="#00ee00"/><rect x="235" y="590" width="5" height="26" fill="#00ee00"/><rect x="243" y="590" width="5" height="28" fill="#00ee00"/><rect x="251" y="590" width="5" height="28" fill="#00ee00"/><rect x="259" y="590" width="5" height="30" fill="#00ee00"/><rect x="267" y="590" width="5" height="30" fill="#00ee00"/><rect x="275" y="590" width="5" height="29" fill="#00ee00"/><rect x="283" y="590" width="5" height="26" fill="#00ee00"/><rect x="291" y="590" width="5" height="24" fill="#00ee00"/><rect x="299" y="590" width="5" height="22" fill="#00ee00"/><rect x="307" y="590" width="5" height="20" fill="#00ee00"/><rect x="315" y="590" width="5" height="18" fill="#00ee00"/><rect x="323" y="590" width="5" height="18" fill="#00ee00"/><rect x="331" y="590" width="5" height="18" fill="#00ee00"/><rect x="339" y="590" width="5" height="18" fill="#00ee00"/><rect x="347" y="590" width="5" height="16" fill="#00ee00"/><rect x="355" y="590" width="5" height="14" fill="#00ee00"/><rect x="363" y="590" width="5" height="13" fill="#00ee00"/><rect x="371" y="590" width="5" height="12" fill="#00ee00"/><rect x="379" y="590" width="5" height="12" fill="#00ee00"/><rect x="387" y="590" width="5" height="12" fill="#00ee00"/><rect x="395" y="590" width="5" height="11" fill="#00ee00"/><rect x="403" y="590" width="5" height="10" fill="#00ee00"/><rect x="411" y="590" width="5" height="10" fill="#00ee00"/><rect x="419" y="590" width="5" height="13" fill="#00ee00"/><rect x="427" y="590" width="5" height="16" fill="#00ee00"/><rect x="435" y="590" width="5" height="18" fill="#00ee00"/><rect x="443" y="590" width="5" height="20" fill="#00ee00"/><rect x="451" y="590" width="5" height="22" fill="#00ee00"/><rect x="459" y="590" width="5" height="17" fill="#00ee00"/><rect x="467" y="590" width="5" height="12" fill="#00ee00"/><rect x="475" y="590" width="5" height="8" fill="#00ee00"/><rect x="483" y="590" width="5" height="6" fill="#00ee00"/><rect x="491" y="590" width="5" height="2" fill="#00ee00"/><rect x="499" y="589" width="5" height="1" fill="#00ee00"/><rect x="507" y="583" width="5" height="7" fill="#00ee00"/><rect x="515" y="582" width="5" height="8" fill="#00ee00"/><rect x="523" y="580" width="5" height="10" fill="#00ee00"/><rect x="531" y="579" width="5" height="11" fill="#00ee00"/><rect x="539" y="578" width="5" height="12" fill="#00ee00"/><rect x="547" y="578" width="5" height="12" fill="#00ee00"/><rect x="555" y="579" width="5" height="11" fill="#00ee00"/><rect x="563" y="581" width="5" height="9" fill="#00ee00"/><rect x="571" y="582" width="5" height="8" fill="#00ee00"/><rect x="579" y="582" width="5" height="8" fill="#00ee00"/><rect x="587" y="582" width="5" height="8" fill="#00ee00"/><rect x="595" y="582" width="5" height="8" fill="#00ee00"/><rect x="603" y="584" width="5" height="6" fill="#00ee00"/><rect x="611" y="585" width="5" height="5" fill="#00ee00"/><rect x="619" y="585" width="5" height="5" fill="#00ee00"/><rect x="627" y="586" width="5" height="4" fill="#00ee00"/><rect x="635" y="586" width="5" height="4" fill="#00ee00"/><rect x="643" y="586" width="5" height="4" fill="#00ee00"/><rect x="651" y="586" width="5" height="4" fill="#00ee00"/><rect x="659" y="583" width="5" height="7" fill="#00ee00"/><rect x="667" y="580" width="5" height="10" fill="#00ee00"/><rect x="675" y="578" width="5" height="12" fill="#00ee00"/><rect x="683" y="575" width="5" height="15" fill="#00ee00"/><rect x="691" y="573" width="5" height="17" fill="#00ee00"/><rect x="699" y="569" width="5" height="21" fill="#00ee00"/><rect x="707" y="566" width="5" height="24" fill="#00ee00"/><rect x="715" y="564" width="5" height="26" fill="#00ee00"/><rect x="723" y="560" width="5" height="30" fill="#00ee00"/><rect x="731" y="557" width="5" height="33" fill="#00ee00"/><rect x="739" y="556" width="5" height="34" fill="#00ee00"/><rect x="747" y="555" width="5" height="35" fill="#00ee00"/><rect x="755" y="555" width="5" height="35" fill="#00ee00"/><rect x="763" y="555" width="5" height="35" fill="#00ee00"/><rect x="771" y="557" width="5" height="33" fill="#00ee00"/><rect x="779" y="558" width="5" height="32" fill="#00ee00"/><rect x="787" y="558" width="5" height="32" fill="#00ee00"/><rect x="795" y="558" width="5" height="32" fill="#00ee00"/><rect x="803" y="558" width="5" height="32" fill="#00ee00"/><rect x="811" y="558" width="5" height="32" fill="#00ee00"/><rect x="819" y="558" width="5" height="32" fill="#00ee00"/><rect x="827" y="558" width="5" height="32" fill="#00ee00"/><rect x="835" y="558" width="5" height="32" fill="#00ee00"/><rect x="843" y="558" width="5" height="32" fill="#00ee00"/><rect x="851" y="562" width="5" height="28" fill="#00ee00"/><rect x="859" y="567" width="5" height="23" fill="#00ee00"/><rect x="867" y="568" width="5" height="22" fill="#00ee00"/><rect x="875" y="570" width="5" height="20" fill="#00ee00"/><rect x="883" y="572" width="5" height="18" fill="#00ee00"/><rect x="891" y="575" width="5" height="15" fill="#00ee00"/><rect x="899" y="576" width="5" height="14" fill="#00ee00"/><rect x="907" y="578" width="5" height="12" fill="#00ee00"/><rect x="915" y="577" width="5" height="13" fill="#00ee00"/><rect x="923" y="576" width="5" height="14" fill="#00ee00"/><rect x="931" y="574" width="5" height="16" fill="#00ee00"/><rect x="939" y="570" width="5" height="20" fill="#00ee00"/><rect x="947" y="567" width="5" height="23" fill="#00ee00"/><rect x="955" y="565" width="5" height="25" fill="#00ee00"/><rect x="963" y="563" width="5" height="27" fill="#00ee00"/><rect x="971" y="563" width="5" height="27" fill="#00ee00"/><rect x="979" y="564" width="5" height="26" fill="#00ee00"/><rect x="987" y="569" width="5" height="21" fill="#00ee00"/><rect x="995" y="571" width="5" height="19" fill="#00ee00"/><rect x="1003" y="574" width="5" height="16" fill="#00ee00"/><rect x="1011" y="577" width="5" height="13" fill="#00ee00"/><rect x="1019" y="578" width="5" height="12" fill="#00ee00"/><rect x="1027" y="578" width="5" height="12" fill="#00ee00"/><rect x="1035" y="577" width="5" height="13" fill="#00ee00"/><rect x="1043" y="576" width="5" height="14" fill="#00ee00"/><rect x="1051" y="576" width="5" height="14" fill="#00ee00"/><rect x="1059" y="578" width="5" height="12" fill="#00ee00"/><rect x="1067" y="578" width="5" height="12" fill="#00ee00"/><rect x="1075" y="578" width="5" height="12" fill="#00ee00"/><rect x="1083" y="576" width="5" height="14" fill="#00ee00"/><rect x="1091" y="574" width="5" height="16" fill="#00ee00"/><rect x="1099" y="574" width="5" height="16" fill="#00ee00"/><rect x="1107" y="576" width="5" height="14" fill="#00ee00"/><rect x="1115" y="575" width="5" height="15" fill="#00ee00"/><rect x="1123" y="575" width="5" height="15" fill="#00ee00"/><rect x="1131" y="575" width="5" height="15" fill="#00ee00"/><rect x="1139" y="575" width="5" height="15" fill="#00ee00"/><rect x="1147" y="575" width="5" height="15" fill="#00ee00"/><rect x="1155" y="578" width="5" height="12" fill="#00ee00"/><rect x="1163" y="580" width="5" height="10" fill="#00ee00"/><rect x="1171" y="579" width="5" height="11" fill="#00ee00"/><rect x="1179" y="580" width="5" height="10" fill="#00ee00"/><rect x="1187" y="582" width="5" height="8" fill="#00ee00"/><rect x="1195" y="583" width="5" height="7" fill="#00ee00"/><rect x="1203" y="584" width="5" height="6" fill="#00ee00"/><polyline points="5,641.8 21,640.8 37,638.8 53,634.8 69,631.5 85,627.8 101,625.3 117,622.8 133,620.8 149,618.8 165,617.3 181,615.3 197,613.3 213,611.8 229,611.2 245,611.5 261,614.6 277,617.0 285,617.4 301,617.2 317,615.3 325,614.2 341,611.8 357,609.0 373,606.5 389,604.4 405,602.2 421,601.3 432,602.0 445,604.5 458,605.8 467,605.3 476,604.5 484,604.2 493,602.7 502,599.6 511,596 520,592.4 529,588.9 538,585.8 547,583.6 556,581.8 565,580.8 573,580.4 589,580.4 597,580.8 605,581.8 621,582.2 629,583.2 637,585.3 653,585.5 669,585.3 685,583.2 701,579.2 717,574.2 733,568.2 749,564.2 765,560.3 781,557.2 789,556.5 837,556.5 853,557.7 869,560.5 885,563.7 901,567.7 917,572.1 925,574.1 933,574.5 949,574.5 957,573.7 973,570.8 989,568.4 1005,567.8 1013,568.8 1029,571.2 1045,574.4 1061,576.8 1085,576.8 1093,575.8 1109,575.8 1117,574.8 1149,574.8 1157,575.8 1173,576.8 1189,578.8 1205,581.3" fill="none" stroke="#f00" stroke-width="3" stroke-linejoin="round"/></g>
<rect x="4" y="549" width="1520" height="1" fill="#000"/>
<rect x="4" y="646" width="1520" height="1" fill="#000"/>
<rect x="4" y="549" width="1" height="98" fill="#000"/>
<rect x="1523" y="549" width="1" height="98" fill="#000"/>
<text x="8.80" y="567" textLength="174.50" lengthAdjust="spacingAndGlyphs">MACD(12,26,9) 2.076 3.451</text>
<rect x="1524" y="550" width="2" height="1" fill="#000"/>
<text x="1527.28" y="565" textLength="43.56" lengthAdjust="spacingAndGlyphs">13.605</text>
<rect x="1524" y="590" width="2" height="1" fill="#000"/>
<text x="1526.56" y="596" textLength="28.40" lengthAdjust="spacingAndGlyphs">0.00</text>
<rect x="1524" y="645" width="2" height="1" fill="#000"/>
<text x="1527.27" y="642" textLength="48.93" lengthAdjust="spacingAndGlyphs">-19.262</text>
<rect x="5" y="647" width="1" height="3" fill="#000"/>
<text x="3.30" y="664" textLength="64.92" lengthAdjust="spacingAndGlyphs">8 Jul 2022</text>
<rect x="133" y="647" width="1" height="3" fill="#000"/>
<text x="132.10" y="664" textLength="76.50" lengthAdjust="spacingAndGlyphs">12 Jul 16:00</text>
<rect x="261" y="647" width="1" height="3" fill="#000"/>
<text x="260.20" y="664" textLength="76.30" lengthAdjust="spacingAndGlyphs">15 Jul 08:00</text>
<rect x="389" y="647" width="1" height="3" fill="#000"/>
<text x="387.80" y="664" textLength="76.50" lengthAdjust="spacingAndGlyphs">20 Jul 00:00</text>
<rect x="517" y="647" width="1" height="3" fill="#000"/>
<text x="515.69" y="664" textLength="76.81" lengthAdjust="spacingAndGlyphs">22 Jul 16:00</text>
<rect x="645" y="647" width="1" height="3" fill="#000"/>
<text x="643.99" y="664" textLength="76.81" lengthAdjust="spacingAndGlyphs">27 Jul 08:00</text>
<rect x="773" y="647" width="1" height="3" fill="#000"/>
<text x="771.97" y="664" textLength="77.21" lengthAdjust="spacingAndGlyphs">1 Aug 00:00</text>
<rect x="901" y="647" width="1" height="3" fill="#000"/>
<text x="899.66" y="664" textLength="77.41" lengthAdjust="spacingAndGlyphs">3 Aug 16:00</text>
<rect x="1029" y="647" width="1" height="3" fill="#000"/>
<text x="1027.46" y="664" textLength="77.82" lengthAdjust="spacingAndGlyphs">8 Aug 08:00</text>
<rect x="1157" y="647" width="1" height="3" fill="#000"/>
<text x="1155.96" y="664" textLength="84.74" lengthAdjust="spacingAndGlyphs">11 Aug 00:00</text>
</svg></body></html>
